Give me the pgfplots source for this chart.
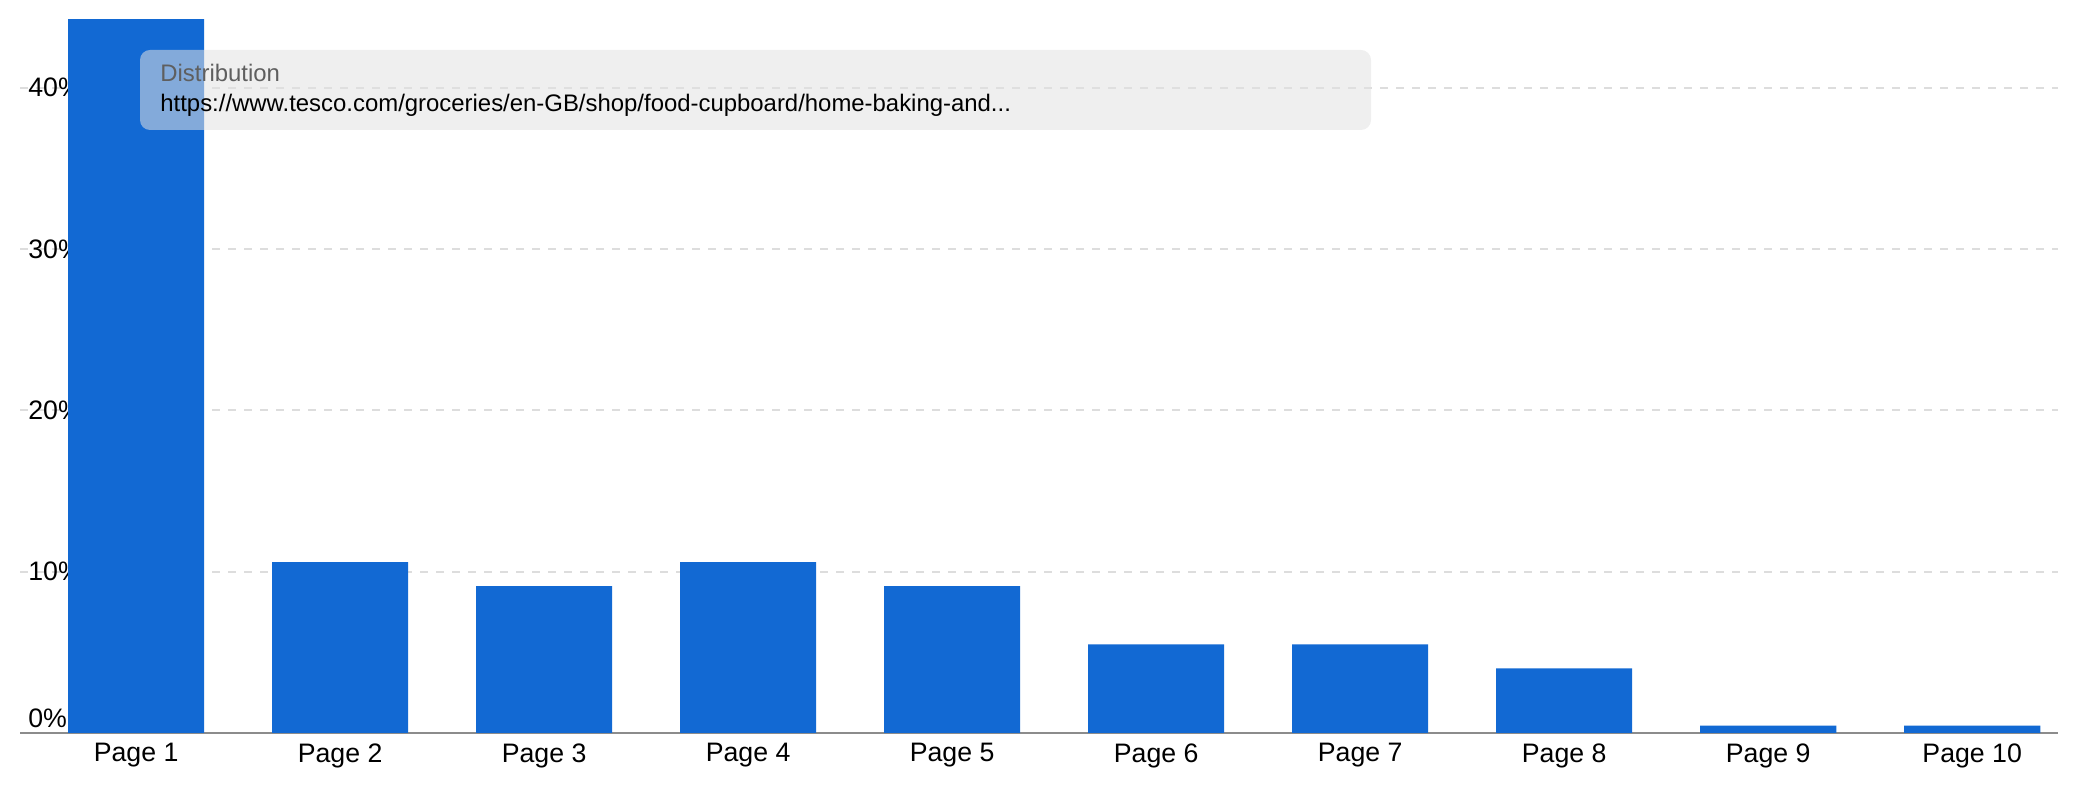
\documentclass[border=0pt]{standalone}
\usepackage{fontspec}
\setmainfont{Liberation Sans}
\usepackage{pgfplots}
\pgfplotsset{compat=1.18}
\definecolor{barblue}{HTML}{1269D3}
\definecolor{gridgray}{HTML}{DDDDDD}
\definecolor{axisgray}{HTML}{8C8C8C}
\definecolor{tipfill}{HTML}{E1E1E1}
\definecolor{tiptext}{HTML}{5F5F5F}

\begin{document}
\begin{tikzpicture}
\begin{axis}[
	at={(10bp,33.5bp)}, anchor=south west,
	scale only axis, width=1019bp, height=356.5bp,
	set layers,
	xmin=0.431, xmax=10.42, ymin=0, ymax=44.2,
	separate axis lines,
	axis x line*=bottom, axis y line*=left,
	x axis line style={draw=axisgray, line width=1.2bp, -},
	y axis line style={draw=none},
	ybar, bar width=0.667,
	xtick={1,...,10},
	xticklabels={Page 1,Page 2,Page 3,Page 4,Page 5,Page 6,Page 7,Page 8,Page 9,Page 10},
	ytick={10,20,30,40},
	yticklabels={10\%,20\%,30\%,40\%},
	extra y ticks={0},
	extra y tick labels={0\%},
	extra y tick style={grid=none, yticklabel style={yshift=7.5bp}},
	ymajorgrids,
	grid style={draw=gridgray, line width=1bp, dash pattern=on 4bp off 4bp},
	major tick length=0pt,
	tick label style={font=\fontsize{13.4}{16}\selectfont},
	yticklabel style={anchor=west, inner sep=0pt, xshift=4bp},
	xticklabel style={anchor=north, inner sep=0pt, yshift=-5bp},
]
\addplot[fill=barblue, draw=none] coordinates {
	(1,44.7) (2,10.6) (3,9.1) (4,10.6) (5,9.1)
	(6,5.5) (7,5.5) (8,4.0) (9,0.45) (10,0.45)};
\end{axis}
% tooltip box
\fill[tipfill, fill opacity=0.55, rounded corners=5bp] (70bp,335bp) rectangle (685.5bp,375bp);
\node[anchor=base west, inner sep=0pt, text=tiptext, font=\fontsize{12}{15}\selectfont] at (80bp,359.2bp) {Distribution};
\node[anchor=base west, inner sep=0pt, font=\fontsize{12}{15}\selectfont] at (80bp,344.2bp) {https://www.tesco.com/groceries/en-GB/shop/food-cupboard/home-baking-and...};
\pgfresetboundingbox
\useasboundingbox (0,0) rectangle (1039bp,400bp);
\end{tikzpicture}
\end{document}
